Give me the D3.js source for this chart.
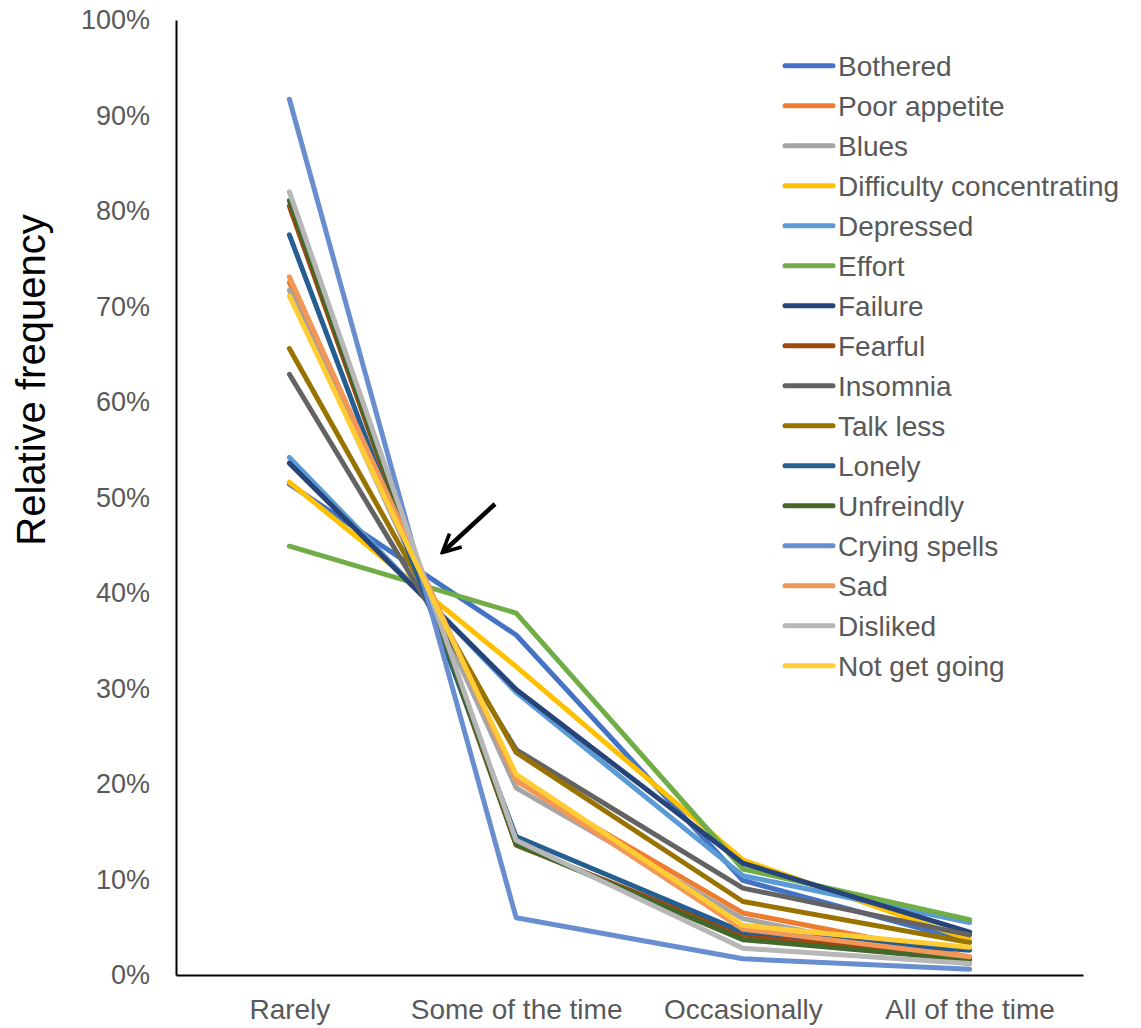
<!DOCTYPE html>
<html><head><meta charset="utf-8">
<script src="https://cdn.jsdelivr.net/npm/d3@7"></script>
<style>body{margin:0;background:#fff;} svg{display:block;font-family:"Liberation Sans",Arial,sans-serif;}</style>
</head><body>
<svg id="chart" width="1141" height="1028"></svg>
<script>
const categories = ["Rarely", "Some of the time", "Occasionally", "All of the time"];
const seriesNames = ["Bothered","Poor appetite","Blues","Difficulty concentrating","Depressed","Effort","Failure","Fearful","Insomnia","Talk less","Lonely","Unfreindly","Crying spells","Sad","Disliked","Not get going"];
const seriesColors = ["#4472C4","#ED7D31","#A5A5A5","#FFC000","#5B9BD5","#70AD47","#264478","#9E480E","#636363","#997300","#255E91","#43682B","#698ED0","#F1975A","#B7B7B7","#FFCD33"];
const bothered      = [51.4, 35.6, 9.9, 3.5];
const poorAppetite  = [72.5, 20.3, 6.5, 1.9];
const blues         = [71.7, 19.6, 5.9, 1.15];
const difficulty    = [51.6, 32.3, 12.05, 3.7];
const depressed     = [54.2, 29.6, 10.4, 5.5];
const effort        = [44.9, 37.9, 11.1, 5.8];
const failure       = [53.6, 29.9, 11.7, 4.5];
const fearful       = [80.5, 13.6, 4.2, 1.7];
const insomnia      = [62.9, 23.6, 9.1, 4.2];
const talkLess      = [65.6, 23.3, 7.7, 3.4];
const lonely        = [77.5, 14.5, 4.5, 2.6];
const unfriendly    = [81.1, 13.7, 3.7, 1.6];
const cryingSpells  = [91.7, 6.0, 1.7, 0.6];
const sad           = [73.1, 20.4, 4.8, 1.9];
const disliked      = [82.0, 14.1, 2.8, 1.2];
const notGetGoing   = [71.1, 21.0, 5.2, 2.9];
const yTicks = [0,10,20,30,40,50,60,70,80,90,100];
const seriesValues = [bothered,poorAppetite,blues,difficulty,depressed,effort,failure,fearful,insomnia,talkLess,lonely,unfriendly,cryingSpells,sad,disliked,notGetGoing];

const svg = d3.select("#chart");
const plotLeft = 176, plotRight = 1083, plotTop = 20, plotBottom = 975;
const x = d3.scalePoint().domain(categories).range([plotLeft, plotRight]).padding(0.5);
const y = d3.scaleLinear().domain([0, 100]).range([plotBottom, plotTop]);
const fontFam = "'Liberation Sans', Arimo, Arial, sans-serif";

// axes
const yAxis = svg.append("g").attr("transform", `translate(${plotLeft},0)`)
  .call(d3.axisLeft(y).tickValues(yTicks).tickFormat(d => d + "%").tickSize(0).tickPadding(26));
yAxis.select(".domain").attr("stroke", "#000").attr("stroke-width", 2);
yAxis.selectAll("text").attr("fill", "#595959").style("font-size", "27px").style("font-family", fontFam);

const xAxis = svg.append("g").attr("transform", `translate(0,${plotBottom})`)
  .call(d3.axisBottom(x).tickSize(0).tickPadding(24));
xAxis.select(".domain").attr("stroke", "#000").attr("stroke-width", 2);
xAxis.selectAll("text").attr("fill", "#595959").style("font-size", "28px").style("font-family", fontFam);

// lines
const line = d3.line().x((d, i) => x(categories[i])).y(d => y(d));
svg.append("g").selectAll("path").data(seriesValues).join("path")
  .attr("d", d => line(d))
  .attr("fill", "none")
  .attr("stroke", (d, i) => seriesColors[i])
  .attr("stroke-width", 5)
  .attr("stroke-linecap", "round")
  .attr("stroke-linejoin", "round");

// axis title
svg.append("text")
  .attr("transform", "translate(45,380) rotate(-90)")
  .attr("text-anchor", "middle")
  .attr("fill", "#000")
  .style("font-size", "40px").style("font-family", fontFam)
  .text("Relative frequency");

// legend
const legend = svg.append("g");
const lg = legend.selectAll("g").data(seriesNames).join("g")
  .attr("transform", (d, i) => `translate(785,${65.7 + 40 * i})`);
lg.append("line").attr("x1", 0).attr("x2", 48).attr("y1", 0).attr("y2", 0)
  .attr("stroke", (d, i) => seriesColors[i]).attr("stroke-width", 5).attr("stroke-linecap", "round");
lg.append("text").attr("x", 53).attr("y", 0).attr("dy", "0.35em")
  .attr("fill", "#595959").style("font-size", "28px").style("font-family", fontFam).text(d => d);

// arrow annotation
const defs = svg.append("defs");
defs.append("marker").attr("id", "arrowhead").attr("viewBox", "0 0 10 10")
  .attr("refX", 8).attr("refY", 5).attr("markerWidth", 5).attr("markerHeight", 5)
  .attr("orient", "auto").attr("markerUnits", "strokeWidth")
  .append("path").attr("d", "M1,1 L9,5 L1,9").attr("fill", "none").attr("stroke", "#000").attr("stroke-width", 1.6).attr("stroke-linejoin", "miter");
svg.append("line").attr("x1", 495).attr("y1", 504).attr("x2", 444).attr("y2", 551)
  .attr("stroke", "#000").attr("stroke-width", 4.5).attr("marker-end", "url(#arrowhead)");
</script>
</body></html>
